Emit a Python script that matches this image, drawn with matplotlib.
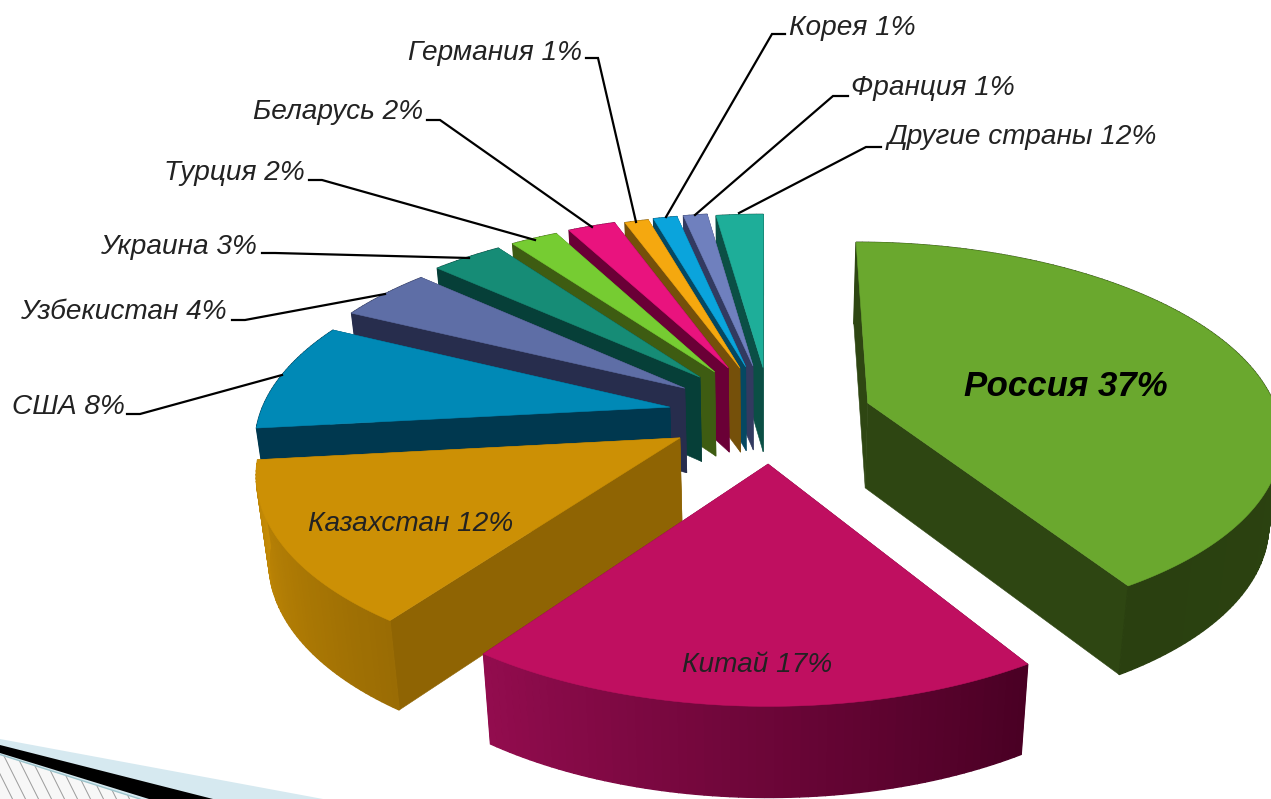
import numpy as np
import matplotlib
matplotlib.use("Agg")
import matplotlib.pyplot as plt
from matplotlib.patches import Polygon

# ---- data ----
countries = ["Россия", "Китай", "Казахстан", "США", "Узбекистан", "Украина", "Турция",
             "Беларусь", "Германия", "Корея", "Франция", "Другие страны"]
labelled_pct = [37, 17, 12, 8, 4, 3, 2, 2, 1, 1, 1, 12]
# the share each slice really takes up in the drawing (degrees of the circle)
drawn_deg = [148.2, 67.5, 48.0, 32.4, 16.0, 12.0, 8.0, 8.0, 4.0, 4.0, 4.0, 7.9]
# slice apex displacement on the pie plane
apex_dx = [104, 3, -84, -96, -82, -67, -52, -38, -26, -20, -12.5, -2]
apex_dy = [-37, 92, 38, -28, -70, -95, -107, -116, -116, -119, -121, -117]
top_colors = ["#6AA82E", "#BF0F60", "#CC9005", "#0089B6", "#5E6EA6", "#168C76", "#76CC32",
              "#E9137E", "#F5A80F", "#0AA4DC", "#6F80BE", "#1EAE99"]
wall_colors = ["#2E4612", "#6A0A38", "#8F6403", "#00384F", "#272D4D", "#063F38", "#3E5C12",
               "#6A0036", "#75500A", "#054862", "#323A60", "#0B4F45"]
rim_from = ["#2E4712", "#4A0024", "#9A6C04", "#00384F", "#272D4D", "#063F38", "#3E5C12",
            "#6A0036", "#75500A", "#054862", "#323A60", "#0B4F45"]
rim_to = ["#2A4010", "#920C4E", "#C48A05", "#00384F", "#272D4D", "#063F38", "#3E5C12",
          "#6A0036", "#75500A", "#054862", "#323A60", "#0B4F45"]

# ---- label layout ----
label_x = [1066, 757, 411, 68, 123, 178, 234, 338, 495, 852, 933, 1022]
label_y = [386, 665, 524, 407, 312, 247, 173, 112, 53, 28, 88, 137]
leaders = {
    "США": [(127, 414), (140, 414), (282, 375)],
    "Узбекистан": [(232, 320), (245, 320), (385, 294)],
    "Украина": [(262, 253), (275, 253), (469, 258)],
    "Турция": [(309, 180), (322, 180), (535, 240)],
    "Беларусь": [(427, 120), (440, 120), (592, 227)],
    "Германия": [(586, 58), (598, 58), (636, 222)],
    "Корея": [(785, 34), (772, 34), (666, 217)],
    "Франция": [(848, 96), (833, 96), (695, 215)],
    "Другие страны": [(881, 147), (866, 147), (739, 213)],
}

# ---- perspective of the 3D pie ----
X0, H, D, P, C = 765.0, -1013.0, 1433.0, 3.24e-4, 0.025

def radius(t):
    return 411.0 - 11.0 * np.cos(t)

def project(x, y):
    w = 1.0 / (1.0 - P * y)
    return X0 + x * w, H + D * w

def lower(sx, sy):
    w = (sy - H) / D
    return X0 + (sx - X0) * (1 - C), sy + 84 + (w - 0.96) * 30

def mix(c1, c2, t):
    a, b = np.array(matplotlib.colors.to_rgb(c1)), np.array(matplotlib.colors.to_rgb(c2))
    return tuple(a + (b - a) * t)

fig = plt.figure(figsize=(12.71, 7.99), dpi=100)
ax = fig.add_axes([0, 0, 1, 1])
ax.set_xlim(0, 1271)
ax.set_ylim(799, 0)
ax.axis("off")

# template decoration in the lower left corner
ax.add_patch(Polygon([(0, 739), (323, 799), (0, 799)], fc="#D6E9F0", ec="none", zorder=1))
paper = Polygon([(0, 755), (140, 799), (0, 799)], fc="#F7F7F7", ec="none", zorder=2)
ax.add_patch(paper)
for x_start in range(-30, 150, 13):
    ln, = ax.plot([x_start, x_start + 30], [740, 800], color="#9A9A9A", lw=0.7, zorder=2.5)
    ln.set_clip_path(paper)
ax.plot([0, 140], [754.5, 799], color="#9CC4CC", lw=1, zorder=2.6)
ax.add_patch(Polygon([(0, 745), (213, 799), (149, 799), (0, 753)], fc="black", ec="none", zorder=3))

ends = np.cumsum(drawn_deg)
starts = ends - np.array(drawn_deg)
order = [0] + list(range(len(countries) - 1, 0, -1))
z = 10
for i in order:
    a0, a1 = np.radians(starts[i]), np.radians(ends[i])
    n = max(int(drawn_deg[i]), 4)
    th = np.linspace(a0, a1, n + 1)
    ax0, ay0 = apex_dx[i], apex_dy[i]
    apex = project(ax0, ay0)
    apex_low = lower(*apex)
    pts = [project(ax0 + radius(t) * np.sin(t), ay0 - radius(t) * np.cos(t)) for t in th]
    low = [lower(*q) for q in pts]
    # radial walls
    for q, ql in ((pts[0], low[0]), (pts[-1], low[-1])):
        ax.add_patch(Polygon([apex, q, ql, apex_low], fc=wall_colors[i], ec=wall_colors[i], lw=0.4, zorder=z))
    # curved outer wall, shaded step by step
    for k in range(n):
        col = mix(rim_from[i], rim_to[i], k / max(n - 1, 1))
        ax.add_patch(Polygon([pts[k], pts[k + 1], low[k + 1], low[k]], fc=col, ec=col, lw=1.0, zorder=z))
    # top face
    ax.add_patch(Polygon([apex] + pts, fc=top_colors[i], ec=top_colors[i], lw=0.4, zorder=z + 1))
    z += 2

# labels and leader lines
font = "Liberation Sans"
for i, name in enumerate(countries):
    text = f"{name} {labelled_pct[i]}%"
    first = i == 0
    ax.text(label_x[i], label_y[i], text, ha="center", va="center", style="italic",
            family=font, fontsize=25 if first else 20.2, weight="bold" if first else "normal",
            color="black" if first else "#222222", zorder=100)
    if name in leaders:
        xs, ys = zip(*leaders[name])
        ax.plot(xs, ys, color="black", lw=1.6, solid_joinstyle="miter", zorder=50)

fig.savefig("out.png", dpi=100)
